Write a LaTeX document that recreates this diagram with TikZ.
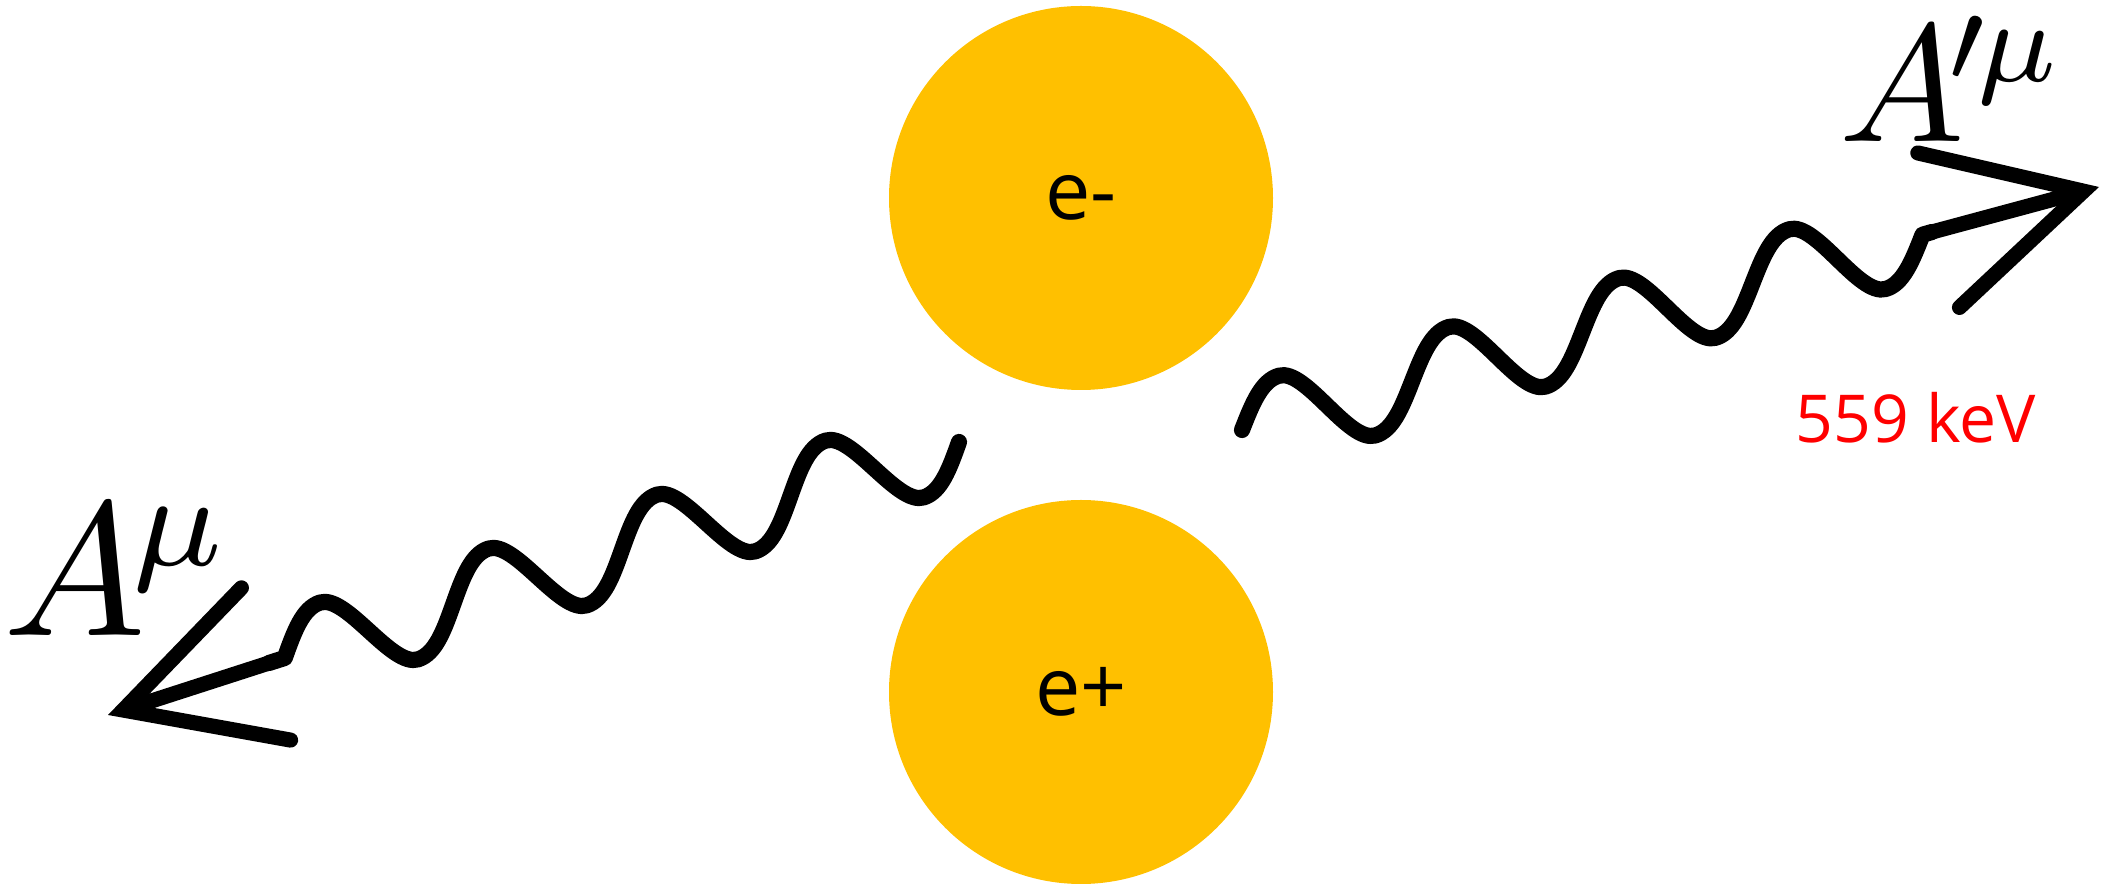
\documentclass[tikz,border=0pt]{standalone}
\usepackage{fontspec}
\newfontfamily\labelfont{Open Sans}
\usepackage{tikz}
\usetikzlibrary{arrows.meta,decorations}
\definecolor{electron}{HTML}{FFC000}

% skewed photon wave, one period per segment
\pgfdeclaredecoration{photonwave}{wave}{
  \state{wave}[width=\pgfdecorationsegmentlength]{
    \pgfpathcurveto
      {\pgfqpoint{0.0952\pgfdecorationsegmentlength}{0.525\pgfdecorationsegmentamplitude}}
      {\pgfqpoint{0.1815\pgfdecorationsegmentlength}{\pgfdecorationsegmentamplitude}}
      {\pgfqpoint{0.285\pgfdecorationsegmentlength}{\pgfdecorationsegmentamplitude}}
    \pgfpathcurveto
      {\pgfqpoint{0.4415\pgfdecorationsegmentlength}{\pgfdecorationsegmentamplitude}}
      {\pgfqpoint{0.5585\pgfdecorationsegmentlength}{-\pgfdecorationsegmentamplitude}}
      {\pgfqpoint{0.715\pgfdecorationsegmentlength}{-\pgfdecorationsegmentamplitude}}
    \pgfpathcurveto
      {\pgfqpoint{0.8185\pgfdecorationsegmentlength}{-\pgfdecorationsegmentamplitude}}
      {\pgfqpoint{0.9048\pgfdecorationsegmentlength}{-0.525\pgfdecorationsegmentamplitude}}
      {\pgfqpoint{\pgfdecorationsegmentlength}{0pt}}
  }
  \state{final}{\pgfpathlineto{\pgfpointdecoratedpathlast}}
}

\begin{document}
\begin{tikzpicture}[
    particle/.style={
        circle,
        fill=electron,
        minimum size=3.84cm,
        inner sep=0pt,
        font=\labelfont\fontsize{23}{27}\selectfont
    },
    photon/.style={
        line width=4.6pt,
        line cap=round,
        line join=round,
        decorate,
        decoration={photonwave, amplitude=0.42cm, segment length=1.77cm}
    },
    shaft/.style={
        line width=4.3pt,
        line cap=round,
        -{Straight Barb[length=1.5cm, width=1.6cm, line join=miter, line cap=round]}
    },
    field/.style={
        inner sep=0pt,
        anchor=base west
    },
    energy/.style={
        inner sep=0pt,
        anchor=base,
        text=red,
        font=\labelfont\fontsize{18.8}{22}\selectfont
    }
]
\useasboundingbox (0,0) rectangle (21.03,8.86);

\node[particle] (em) at (10.81,6.88) {e-};
\node[particle] (ep) at (10.81,1.94) {e+};

% photon ends
\coordinate (vin) at (9.59,4.44);
\coordinate (bendin) at (2.69,2.23);
\coordinate (tipin) at (1.08,1.71);
\coordinate (vout) at (12.42,4.56);
\coordinate (bendout) at (19.32,6.54);
\coordinate (tipout) at (20.99,6.99);

\draw[photon] (vin) -- (bendin);
\draw[shaft] (bendin) -- (tipin);
\draw[photon] (vout) -- (bendout);
\draw[shaft] (bendout) -- (tipout);

\node[field, scale=5.41] (ain) at (0.0,2.51) {$A^{\mkern-1.7mu\mu}$};
\node[field, scale=4.75] (aout) at (18.36,7.44) {$A^{\mkern-2.3mu\prime\mkern-1.2mu\mu}$};
\node[energy] (ekev) at (19.16,4.43) {559 keV};

\end{tikzpicture}
\end{document}
